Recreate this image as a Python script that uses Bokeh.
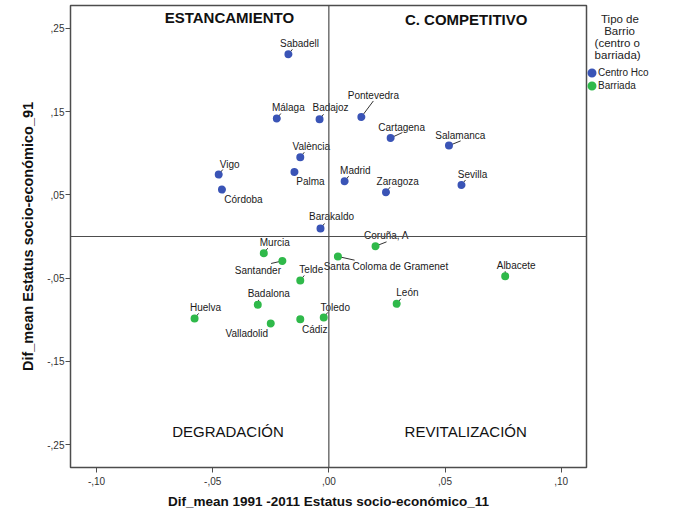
from bokeh.plotting import figure
from bokeh.models import (ColumnDataSource, Span, Label, Legend, LegendItem,
                          FixedTicker, CustomJSTickFormatter, Range1d)
from bokeh.core.properties import value
from bokeh.embed import file_html
from bokeh.resources import INLINE

# ---------------- data ----------------
centro_names = ["Sabadell", "Málaga", "Badajoz", "València", "Palma", "Vigo", "Córdoba",
                "Barakaldo", "Pontevedra", "Cartagena", "Salamanca", "Madrid", "Zaragoza", "Sevilla"]
centro_x = [-0.0174, -0.0224, -0.0040, -0.0123, -0.0148, -0.0474, -0.0460,
            -0.0036, 0.0140, 0.0266, 0.0517, 0.0068, 0.0246, 0.0571]
centro_y = [0.2189, 0.1417, 0.1408, 0.0952, 0.0776, 0.0744, 0.0564,
            0.0096, 0.1436, 0.1184, 0.1092, 0.0664, 0.0532, 0.0619]

barriada_names = ["Murcia", "Santander", "Telde", "Badalona", "Huelva", "Valladolid", "Cádiz",
                  "Toledo", "Santa Coloma de Gramenet", "Coruña, A", "Albacete", "León"]
barriada_x = [-0.0280, -0.0200, -0.0123, -0.0306, -0.0578, -0.0250, -0.0123,
              -0.0022, 0.0039, 0.0201, 0.0759, 0.0292]
barriada_y = [-0.0200, -0.0293, -0.0528, -0.0821, -0.0984, -0.1044, -0.0993,
              -0.0972, -0.0240, -0.0116, -0.0477, -0.0809]

x_ticks = [-0.10, -0.05, 0.0, 0.05, 0.10]
y_ticks = [-0.25, -0.15, -0.05, 0.05, 0.15, 0.25]

quad_text = ["ESTANCAMIENTO", "C. COMPETITIVO", "DEGRADACIÓN", "REVITALIZACIÓN"]
quad_x = [-0.0428, 0.0591, -0.0434, 0.0589]
quad_y = [0.263, 0.2605, -0.2346, -0.2337]
quad_style = ["bold", "bold", "normal", "normal"]

legend_title_lines = ["Tipo de", "Barrio", "(centro o", "barriada)"]
legend_labels = ["Centro Hco", "Barriada"]

# ---------------- label placement (pixels: dx right, dy down) ----------------
label_off = {
    "Sabadell": (11, -11), "Málaga": (11.5, -10.6), "Badajoz": (11, -12), "València": (11, -11),
    "Palma": (16, 10), "Vigo": (11, -10), "Córdoba": (21.5, 10), "Barakaldo": (11, -12),
    "Pontevedra": (12, -21), "Cartagena": (11, -10), "Salamanca": (11.4, -10),
    "Madrid": (10.7, -10.7), "Zaragoza": (11.7, -11), "Sevilla": (11, -10.7),
    "Murcia": (11, -11), "Santander": (-24.5, 9.3), "Telde": (11, -11), "Badalona": (11, -11),
    "Huelva": (11, -10.7), "Valladolid": (-24, 10), "Cádiz": (14.5, 10), "Toledo": (11.5, -10),
    "Santa Coloma de Gramenet": (48, 10), "Coruña, A": (11, -10.7), "Albacete": (11, -10.7),
    "León": (10.7, -11),
}
leader_off = {
    "Pontevedra": (12, -16), "Cartagena": (11.7, -5.4), "Salamanca": (11.7, -4.7),
    "Santander": (-11.3, 2.6), "Santa Coloma de Gramenet": (16.7, 3.7), "Coruña, A": (11, -4.3),
    "Palma": (0, 0), "Córdoba": (0, 0), "Valladolid": (0, 0), "Cádiz": (0, 0),
    "Albacete": (0, -5), "Badalona": (1, -5),
}
default_leader = (4, -5)
title_pad = [5, 6, 3, 3]  # non-breaking spaces used to centre the legend title lines

BLUE = "#3a54b6"
GREEN = "#2fb94a"
FONT = "Liberation Sans"
GRAY = "#4d4d4d"

X0, X1 = -0.1112, 0.1109
Y0, Y1 = -0.2775, 0.2775
FW, FH = 516, 462

p = figure(width=670, height=511, output_backend="svg", toolbar_location=None,
           x_range=Range1d(X0, X1), y_range=Range1d(Y0, Y1),
           frame_width=FW, frame_height=FH,
           min_border_left=70, min_border_right=84, min_border_top=5, min_border_bottom=44)
p.grid.visible = False
p.outline_line_color = GRAY
p.outline_line_width = 1.5
p.background_fill_color = "white"
p.border_fill_color = "white"

fmt = CustomJSTickFormatter(code="""
if (Math.abs(tick) < 1e-9) return ',00';
const s = Math.abs(tick).toFixed(2).replace(/^0\\./, ',');
return (tick < 0 ? '-' : '') + s;
""")
p.xaxis.ticker = FixedTicker(ticks=x_ticks)
p.yaxis.ticker = FixedTicker(ticks=y_ticks)
for ax in (p.xaxis[0], p.yaxis[0]):
    ax.formatter = fmt
    ax.axis_line_color = None
    ax.major_tick_line_color = GRAY
    ax.major_tick_out = 5
    ax.major_tick_in = 0
    ax.minor_tick_line_color = None
    ax.major_label_text_font = FONT
    ax.major_label_text_font_size = "10px"
    ax.major_label_text_color = "#333333"
    ax.axis_label_text_font = FONT
    ax.axis_label_text_font_style = "bold"
    ax.axis_label_text_color = "#111111"
p.xaxis.axis_label = "Dif_mean 1991 -2011 Estatus socio-económico_11"
p.yaxis.axis_label = "Dif_mean Estatus socio-económico_91"
p.xaxis.axis_label_text_font_size = "13.5px"
p.yaxis.axis_label_text_font_size = "14.5px"
p.xaxis.major_label_standoff = 4
p.yaxis.major_label_standoff = 1
p.xaxis.axis_label_standoff = 6
p.yaxis.axis_label_standoff = 8

# reference lines
p.add_layout(Span(location=0, dimension="height", line_color=GRAY, line_width=1.2))
p.add_layout(Span(location=0, dimension="width", line_color=GRAY, line_width=1.2))

ppx = (X1 - X0) / FW
ppy = (Y1 - Y0) / FH


def build(names, xs, ys):
    dx = [label_off[n][0] for n in names]
    dy = [label_off[n][1] for n in names]
    lx = [x + leader_off.get(n, default_leader)[0] * ppx for n, x in zip(names, xs)]
    ly = [y - leader_off.get(n, default_leader)[1] * ppy for n, y in zip(names, ys)]
    return ColumnDataSource(dict(x=xs, y=ys, name=names, dx=dx, dy=dy, lx=lx, ly=ly))


src_c = build(centro_names, centro_x, centro_y)
src_b = build(barriada_names, barriada_x, barriada_y)

for src in (src_c, src_b):
    p.segment(x0="x", y0="y", x1="lx", y1="ly", source=src, line_color="#333333", line_width=1)

# small marker + thick outline: ~8px dots in the plot, ~9px in the legend
r_c = p.scatter("x", "y", source=src_c, size=4.2, fill_color=BLUE, line_color=BLUE, line_width=3.8)
r_b = p.scatter("x", "y", source=src_b, size=4.2, fill_color=GREEN, line_color=GREEN, line_width=3.8)

for src in (src_c, src_b):
    p.text(x="x", y="y", text="name", x_offset="dx", y_offset="dy", source=src,
           text_align="center", text_baseline="middle", text_font=value(FONT),
           text_font_size="10px", text_color="#1a1a1a")

for t, x, y, st in zip(quad_text, quad_x, quad_y, quad_style):
    p.add_layout(Label(x=x, y=y, text=t, text_align="center", text_baseline="middle",
                       text_font=FONT, text_font_size="15px", text_font_style=st,
                       text_color="#111111"))

legend_title = "\n".join("\u00a0" * n + s for n, s in zip(title_pad, legend_title_lines))

legend = Legend(items=[LegendItem(label=legend_labels[0], renderers=[r_c]),
                       LegendItem(label=legend_labels[1], renderers=[r_b])],
                location=(-1, 375), title=legend_title)
legend.border_line_color = None
legend.background_fill_alpha = 0
legend.padding = 0
legend.margin = 0
legend.spacing = 0
legend.glyph_width = 13
legend.glyph_height = 13
legend.label_height = 13
legend.label_standoff = 0
legend.label_text_font = FONT
legend.label_text_font_size = "10px"
legend.label_text_color = "#222222"
legend.title_text_font = FONT
legend.title_text_font_size = "11.5px"
legend.title_text_font_style = "normal"
legend.title_text_color = "#222222"
legend.title_standoff = 5
p.add_layout(legend, "right")

open("out.html", "w").write(file_html(p, INLINE))
